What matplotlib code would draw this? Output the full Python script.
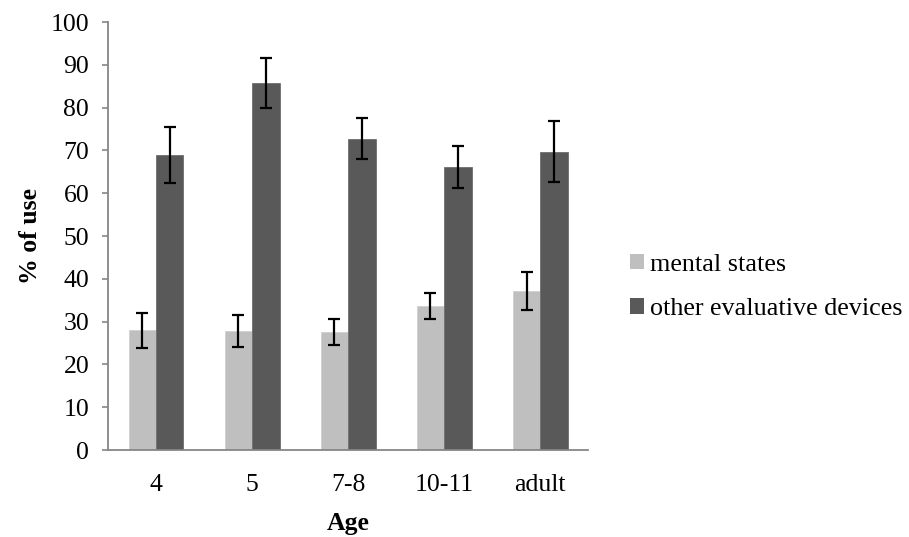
import numpy as np
import matplotlib
matplotlib.use("Agg")
import matplotlib.pyplot as plt
from matplotlib.patches import Patch

ages = ["4", "5", "7-8", "10-11", "adult"]
mental = [28.0, 27.8, 27.6, 33.6, 37.1]
mental_err = [4.1, 3.7, 3.0, 3.0, 4.4]
other = [68.9, 85.7, 72.7, 66.1, 69.7]
other_err = [6.6, 5.8, 4.8, 4.9, 7.1]

plt.rcParams['font.family'] = ['Liberation Serif', 'DejaVu Serif']
fs = 18.5

fig = plt.figure(figsize=(9.09, 5.37), dpi=100)
ax = fig.add_axes([0.1188, 0.162, 0.5284, 0.797])

x = np.arange(len(ages))
w = 0.286
light = "#bfbfbf"
dark = "#595959"

ax.bar(x - w/2, mental, w, color=light, edgecolor="#d0d0d0", linewidth=0.6, zorder=2)
ax.bar(x + w/2, other, w, color=dark, edgecolor="#6e6e6e", linewidth=0.6, zorder=2)
ax.errorbar(x - w/2, mental, yerr=mental_err, fmt="none", ecolor="black",
            elinewidth=1.6, capsize=4.5, capthick=1.6, zorder=3)
ax.errorbar(x + w/2, other, yerr=other_err, fmt="none", ecolor="black",
            elinewidth=1.6, capsize=4.5, capthick=1.6, zorder=3)

ax.set_xlim(-0.5, 4.5)
ax.set_ylim(0, 100)
ax.set_yticks(range(0, 101, 10))
ax.set_xticks(x)
ax.set_xticklabels(ages)

for s in ["top", "right"]:
    ax.spines[s].set_visible(False)
for s in ["left", "bottom"]:
    ax.spines[s].set_color("#868686")
    ax.spines[s].set_linewidth(1.3)
ax.tick_params(axis="y", length=4.5, width=1.2, color="#868686", labelsize=fs, pad=9)
ax.tick_params(axis="x", length=0, labelsize=fs, pad=17)

ax.set_ylabel("% of use", fontsize=fs, fontweight="bold", labelpad=6)
ax.set_xlabel("Age", fontsize=fs, fontweight="bold", labelpad=12)

handles = [Patch(facecolor=light, edgecolor="none", label="mental states"),
           Patch(facecolor=dark, edgecolor="none", label="other evaluative devices")]
fig.legend(handles=handles, loc="center left", bbox_to_anchor=(0.693, 0.466),
           frameon=False, fontsize=18.8, handlelength=0.55, handleheight=0.55,
           handletextpad=0.22, labelspacing=0.85, borderpad=0, borderaxespad=0)

fig.savefig("out.png", dpi=100)
